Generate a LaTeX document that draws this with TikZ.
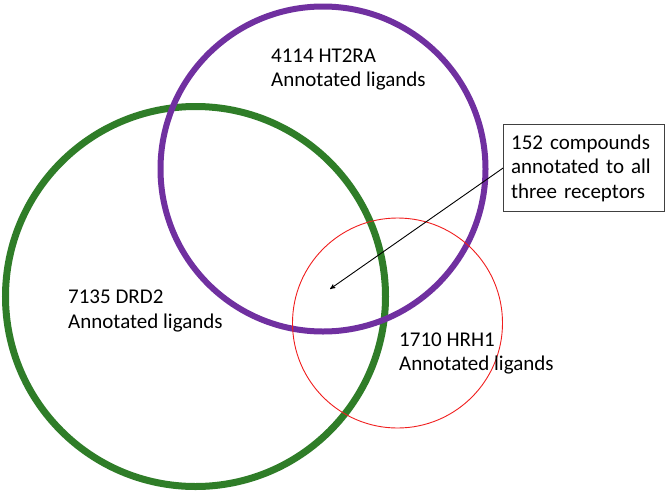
\documentclass[tikz,border=0pt]{standalone}
\usepackage{fontspec}
\setmainfont{Carlito}
\usepackage{tikz}
\usetikzlibrary{arrows}
\usetikzlibrary{positioning, calc}
\definecolor{htpurple}{RGB}{112,48,160}
\definecolor{drgreen}{RGB}{47,125,40}
\definecolor{hrred}{RGB}{240,30,30}
\definecolor{boxgray}{RGB}{64,64,64}
\tikzset{
    ring/.style = {circle, inner sep=0pt},
    setlabel/.style = {anchor=base west, align=left, inner sep=0pt,
        font=\fontsize{21}{24.5}\selectfont},
    notebox/.style = {draw=boxgray, line width=1.2pt, align=left,
        text width=146pt, inner xsep=7.5pt, inner ysep=10pt,
        font=\fontsize{21}{24.5}\selectfont},
}

\begin{document}
\begin{tikzpicture}[x=1pt, y=-1pt, >=stealth']
            \useasboundingbox (0,0) rectangle (666,493);
            \node (drd2) [ring, draw=drgreen, line width=7pt, minimum size=380pt] at (195.5,296.5) {};
            \node (ht2ra) [ring, draw=htpurple, line width=6pt, minimum size=325pt] at (323,169) {};
            \node (hrh1) [ring, draw=hrred, line width=0.9pt, minimum size=210pt] at (397.5,323) {};
            % base anchor sits on the last line
            \node (ht2ra label) [setlabel] at (271,86.5) {4114 HT2RA\\Annotated ligands};
            \node (drd2 label) [setlabel] at (68,328) {7135 DRD2\\Annotated ligands};
            \node (hrh1 label) [setlabel] at (399,370.5) {1710 HRH1\\Annotated ligands};
            \node (note) [notebox, anchor=north west] at (503,124) {152 compounds\\annotated to all\\three receptors};
            \coordinate (core) at (330,289);
            \draw [->, line width=0.9pt] (note.west) -- (core);
            \end{tikzpicture}
\end{document}
